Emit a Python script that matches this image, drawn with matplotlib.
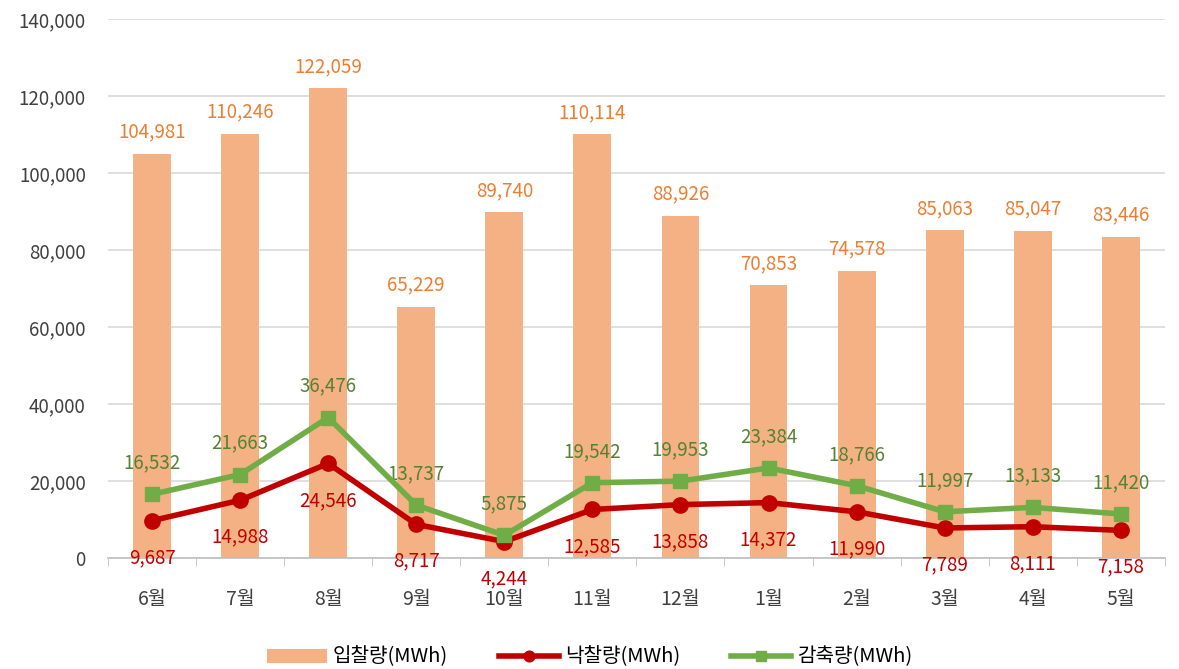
import matplotlib
matplotlib.use("Agg")
import matplotlib.pyplot as plt
from matplotlib.ticker import FuncFormatter, MultipleLocator
import numpy as np

plt.rcParams['font.family'] = ['Noto Sans CJK KR', 'DejaVu Sans']

months = ["6월", "7월", "8월", "9월", "10월", "11월", "12월", "1월", "2월", "3월", "4월", "5월"]
bid = [104981, 110246, 122059, 65229, 89740, 110114, 88926, 70853, 74578, 85063, 85047, 83446]
won = [9687, 14988, 24546, 8717, 4244, 12585, 13858, 14372, 11990, 7789, 8111, 7158]
reduced = [16532, 21663, 36476, 13737, 5875, 19542, 19953, 23384, 18766, 11997, 13133, 11420]

bar_color = "#F4B183"
red = "#C00000"
green = "#70AD47"

fig = plt.figure(figsize=(11.79, 6.69), dpi=100)
ax = fig.add_axes([0.0916, 0.166, 0.8964, 0.8056])

x = np.arange(len(months))
bars = ax.bar(x, bid, width=0.43, color=bar_color, label="입찰량(MWh)", zorder=2)
l_won, = ax.plot(x, won, color=red, lw=4, marker="o", ms=11, label="낙찰량(MWh)", zorder=3)
l_red, = ax.plot(x, reduced, color=green, lw=4, marker="s", ms=10, label="감축량(MWh)", zorder=4)

fmt = lambda v: f"{v:,}"
for xi, v in zip(x, bid):
    ax.annotate(fmt(v), (xi, v), xytext=(0, 8), textcoords="offset points",
                ha="center", va="bottom", color="#ED7D31", fontsize=13.5)
for xi, v in zip(x, won):
    ax.annotate(fmt(v), (xi, v), xytext=(0, -19), textcoords="offset points",
                ha="center", va="top", color=red, fontsize=13.5)
for xi, v in zip(x, reduced):
    ax.annotate(fmt(v), (xi, v), xytext=(0, 15), textcoords="offset points",
                ha="center", va="bottom", color="#548235", fontsize=13.5)

ax.set_ylim(0, 140000)
ax.set_xlim(-0.5, len(months) - 0.5)
ax.yaxis.set_major_locator(MultipleLocator(20000))
ax.yaxis.set_major_formatter(FuncFormatter(lambda v, p: f"{int(v):,}"))
ax.set_xticks(x)
ax.set_xticklabels(months)
ax.set_xticks(np.arange(-0.5, len(months)), minor=True)
ax.tick_params(axis="x", which="major", length=0, labelsize=14, pad=22, colors="#404040")
ax.tick_params(axis="x", which="minor", length=6, color="#BFBFBF")
ax.tick_params(axis="y", length=0, labelsize=13.5, pad=16, colors="#404040")

ax.grid(axis="y", color="#D9D9D9", lw=1.2, zorder=0)
ax.set_axisbelow(True)
for s in ["top", "right", "left"]:
    ax.spines[s].set_visible(False)
ax.spines["bottom"].set_color("#BFBFBF")
ax.spines["bottom"].set_linewidth(1.2)

fig.legend(handles=[bars, l_won, l_red], loc="lower center", bbox_to_anchor=(0.5, -0.025),
           ncol=3, frameon=False, fontsize=14.5, handlelength=3, columnspacing=2.5,
           handletextpad=0.3, markerscale=0.7)

fig.savefig("out.png", dpi=100)
